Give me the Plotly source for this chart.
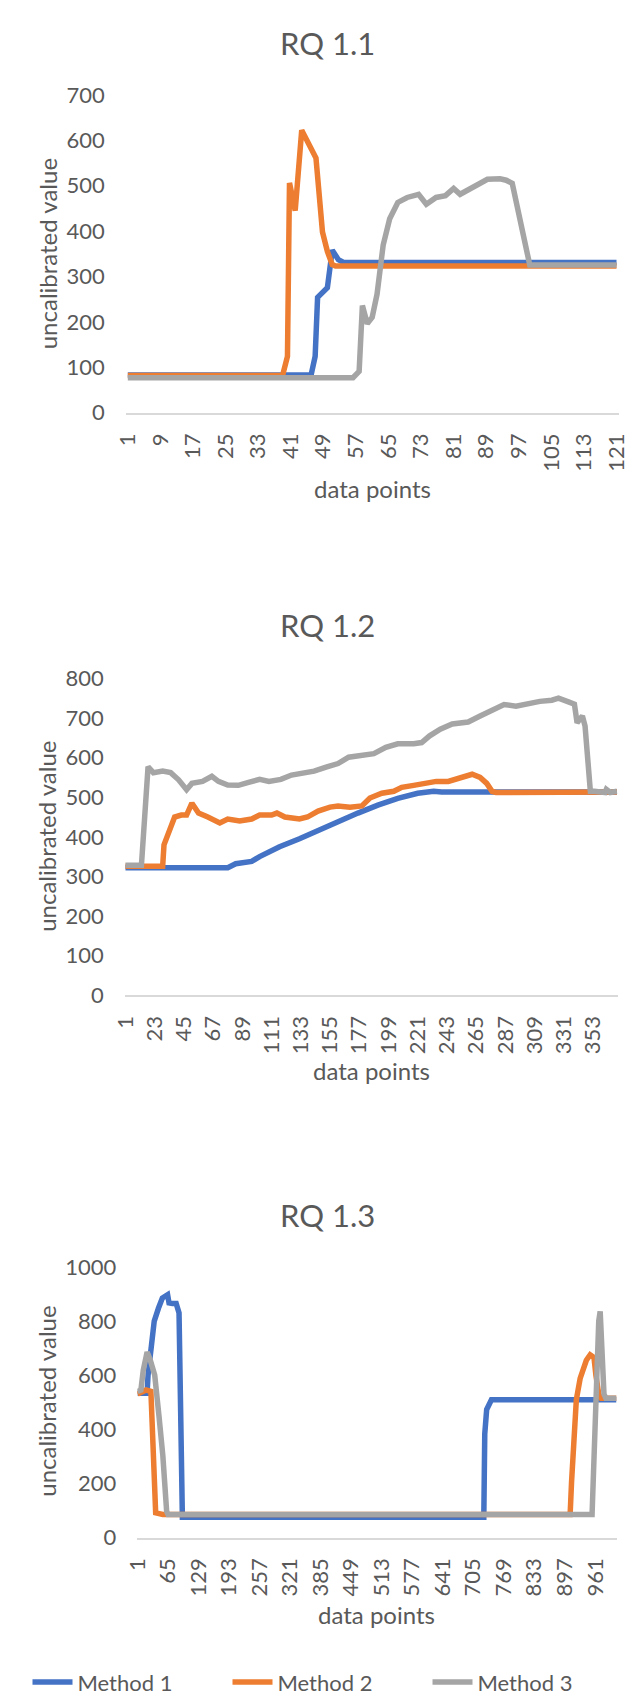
import plotly.graph_objects as go

W, H = 634, 1699

# ---------------- data ----------------
series_names = ["Method 1", "Method 2", "Method 3"]
series_colors = ["#4472C4", "#ED7D31", "#A5A5A5"]

# RQ 1.1  (121 data points)
rq11_n = 121
rq11_m1_x = [1, 46, 47, 47.6, 50, 50.8, 51.2, 52.7, 54, 121]
rq11_m1_y = [83, 83, 124, 254, 275, 319, 358, 337, 331, 331]
rq11_m2_x = [1, 39, 40.2, 40.7, 42.1, 43.7, 47.2, 48.8, 50, 51.2, 52, 121]
rq11_m2_y = [82, 82, 124, 506, 445, 622, 561, 398, 355, 326, 323, 323]
rq11_m3_x = [1, 56.3, 57.8, 58.6, 59.8, 61, 62.2, 63.7, 65.3, 67.3, 69.6, 72.4, 74.3,
             76.7, 79, 81, 82.6, 85.4, 89.3, 92.4, 93.9, 95.4, 96.8, 98.3, 99.7, 121]
rq11_m3_y = [77, 77, 91, 236, 196, 210, 261, 369, 427, 463, 474, 481, 459,
             474, 478, 494, 481, 496, 514, 515, 512, 505, 450, 380, 325, 325]

# RQ 1.2  (371 data points)
rq12_n = 371
rq12_m1_x = [1, 78, 84, 96, 102, 117, 132, 147, 161, 176, 191, 206, 221, 233, 239, 371]
rq12_m1_y = [322, 322, 332, 338, 350, 375, 395, 418, 440, 460, 480, 497, 510, 515, 513, 513]
rq12_m2_x = [1, 29, 30, 34, 38, 43, 47, 51, 56, 63, 72, 78, 87, 96, 102, 111, 115, 121,
             132, 138, 146, 155, 161, 170, 179, 185, 194, 203, 209, 218, 227, 235, 244,
             253, 262, 268, 273, 277, 280, 371]
rq12_m2_y = [326, 326, 380, 420, 450, 455, 455, 485, 460, 450, 435, 445, 440, 445, 455,
             455, 460, 450, 445, 450, 465, 475, 478, 475, 478, 498, 510, 515, 525, 530,
             535, 540, 540, 548, 558, 550, 535, 515, 512, 513]
rq12_m3_x = [1, 13, 18, 22, 29, 35, 41, 47, 51, 59, 66, 71, 78, 86, 93, 102, 109, 118,
             126, 135, 143, 152, 161, 169, 179, 188, 197, 206, 218, 224, 230, 238, 247,
             259, 268, 277, 286, 295, 304, 313, 322, 327, 335, 339, 341, 345, 347, 349,
             351, 354, 362, 363, 366, 371]
rq12_m3_y = [328, 328, 577, 562, 566, 562, 544, 519, 535, 540, 553, 540, 531, 530, 537,
             545, 540, 545, 556, 560, 566, 576, 585, 601, 605, 610, 626, 635, 635, 638,
             655, 672, 685, 690, 705, 720, 734, 730, 737, 742, 745, 750, 740, 735, 688,
             705, 680, 600, 515, 515, 512, 520, 512, 515]

# RQ 1.3  (1005 data points)
rq13_n = 1005
rq13_m1_x = [1, 21, 23, 29, 36, 45, 53, 64, 67, 74, 82, 88, 92, 95, 727, 729, 733, 743, 1005]
rq13_m1_y = [533, 533, 600, 697, 800, 848, 885, 897, 867, 865, 865, 830, 400, 75, 75, 382,
             473, 509, 509]
rq13_m2_x = [1, 19, 29, 33, 36, 39, 54, 908, 911, 921, 929, 942, 950, 958, 962, 968, 973, 1005]
rq13_m2_y = [530, 545, 540, 400, 200, 91, 85, 85, 206, 509, 588, 655, 675, 665, 600, 530,
             515, 515]
rq13_m3_x = [1, 8, 13, 21, 27, 37, 46, 54, 62, 65, 954, 958, 962, 968, 971, 975, 979, 983, 1005]
rq13_m3_y = [540, 545, 618, 685, 660, 600, 448, 303, 97, 85, 85, 300, 500, 800, 836, 700,
             530, 515, 515]

# axis ticks
rq11_ticks = list(range(1, 122, 8))
rq12_ticks = list(range(1, 354, 22))
rq13_ticks = list(range(1, 962, 64))
rq11_yticks = list(range(0, 701, 100))
rq12_yticks = list(range(0, 801, 100))
rq13_yticks = list(range(0, 1001, 200))

titles = ["RQ 1.1", "RQ 1.2", "RQ 1.3"]
x_title = "data points"
y_title = "uncalibrated value"

# ---------------- figure ----------------
FONT = "Lato"
TXT = "#595959"

def py(p):
    return 1 - p / H

def pxx(p):
    return p / W

charts = [
    dict(n=rq11_n, ticks=rq11_ticks, yticks=rq11_yticks, yr=[0, 700],
         xs=[rq11_m1_x, rq11_m2_x, rq11_m3_x], ys=[rq11_m1_y, rq11_m2_y, rq11_m3_y],
         xdom=[107, 620], ydom=[74, 397], title_y=21, xt_y=474, yt_y=236),
    dict(n=rq12_n, ticks=rq12_ticks, yticks=rq12_yticks, yr=[0, 800],
         xs=[rq12_m1_x, rq12_m2_x, rq12_m3_x], ys=[rq12_m1_y, rq12_m2_y, rq12_m3_y],
         xdom=[106, 619], ydom=[667, 989], title_y=613, xt_y=1065, yt_y=828),
    dict(n=rq13_n, ticks=rq13_ticks, yticks=rq13_yticks, yr=[0, 1000],
         xs=[rq13_m1_x, rq13_m2_x, rq13_m3_x], ys=[rq13_m1_y, rq13_m2_y, rq13_m3_y],
         xdom=[119, 618], ydom=[1265, 1540], title_y=1212, xt_y=1618, yt_y=1402),
]

fig = go.Figure()
annotations = []
layout_axes = {}
for ci, c in enumerate(charts):
    k = "" if ci == 0 else str(ci + 1)
    for si in range(3):
        fig.add_trace(go.Scatter(
            x=c["xs"][si], y=c["ys"][si], mode="lines", name=series_names[si],
            line=dict(color=series_colors[si], width=5.5),
            xaxis="x" + k, yaxis="y" + k,
            legendgroup=series_names[si], showlegend=(ci == 2),
            hoverinfo="skip"))
    layout_axes["xaxis" + k] = dict(
        domain=[pxx(c["xdom"][0]), pxx(c["xdom"][1])],
        anchor="y" + k, range=[0.5, c["n"] + 0.5],
        tickmode="array", tickvals=c["ticks"], ticktext=[str(t) for t in c["ticks"]],
        tickangle=-90, showgrid=False, zeroline=False,
        showline=True, linecolor="#D9D9D9", linewidth=2,
        ticks="", ticklabelstandoff=10,
        tickfont=dict(family=FONT, size=22, color=TXT))
    layout_axes["yaxis" + k] = dict(
        domain=[py(c["ydom"][1]), py(c["ydom"][0])],
        anchor="x" + k, range=c["yr"],
        tickmode="array", tickvals=c["yticks"], ticktext=[str(t) for t in c["yticks"]],
        showgrid=False, zeroline=False, showline=False,
        ticks="", ticklabelstandoff=20,
        tickfont=dict(family=FONT, size=22, color=TXT))
    annotations.append(dict(text=titles[ci], x=0.5, y=py(c["title_y"]), xref="paper",
                            yref="paper", xanchor="center", yanchor="middle",
                            showarrow=False, font=dict(family=FONT, size=31, color=TXT)))
    annotations.append(dict(text=x_title, x=pxx((c["xdom"][0] + c["xdom"][1]) / 2),
                            y=py(c["xt_y"]), xref="paper", yref="paper",
                            xanchor="center", yanchor="middle", showarrow=False,
                            font=dict(family=FONT, size=24, color=TXT)))
    annotations.append(dict(text=y_title, x=pxx(25), y=py(c["yt_y"]), xref="paper",
                            yref="paper", xanchor="center", yanchor="middle",
                            textangle=-90, showarrow=False,
                            font=dict(family=FONT, size=24, color=TXT)))

fig.update_layout(
    width=W, height=H,
    margin=dict(l=0, r=0, t=0, b=0),
    paper_bgcolor="white", plot_bgcolor="white",
    annotations=annotations,
    showlegend=True,
    legend=dict(orientation="h", x=0.5, xanchor="center", y=py(1687), yanchor="middle",
                font=dict(family=FONT, size=22, color=TXT),
                entrywidth=145, entrywidthmode="pixels", itemwidth=40,
                bgcolor="rgba(0,0,0,0)"),
    **layout_axes,
)

fig.write_html("out.html")
